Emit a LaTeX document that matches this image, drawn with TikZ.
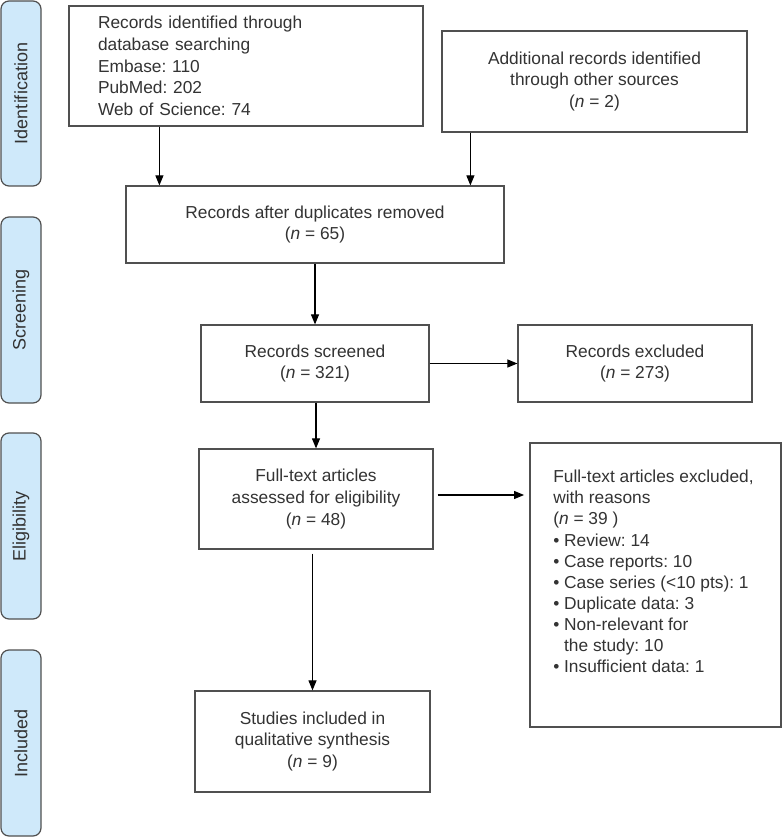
\documentclass[tikz,border=0pt]{standalone}
\usepackage{fontspec}
\setmainfont{Liberation Sans}
\usetikzlibrary{arrows.meta}
\definecolor{txtgray}{HTML}{333333}
\definecolor{boxline}{HTML}{505050}
\definecolor{sidefill}{HTML}{CFE9FA}
\frenchspacing
\begin{document}
\begin{tikzpicture}[x=0.75pt,y=-0.75pt,
  every node/.style={font=\fontsize{13}{16.3}\selectfont, text=txtgray},
  flowbox/.style={draw=boxline, line width=0.9pt, fill=white, align=center, inner sep=0pt},
  sidebox/.style={draw=boxline, line width=0.9pt, fill=sidefill, rounded corners=6pt,
    rotate=90, minimum height=30pt, inner sep=0pt, font=\fontsize{13.5}{16}\selectfont},
  arr/.style={draw=black, line width=0.8pt, -{Triangle[length=7.5pt,width=6pt]}}]
\useasboundingbox (0,0) rectangle (782,837);
% side labels
\node[sidebox, minimum width=138.75pt] (s1) at (21,93.5) {Identification};
\node[sidebox, minimum width=139.5pt] (s2) at (21,310) {Screening};
\node[sidebox, minimum width=139.5pt] (s3) at (21,526) {Eligibility};
\node[sidebox, minimum width=139.5pt] (s4) at (21,743) {Included};
% boxes
\node[flowbox, align=left, text width=222pt, inner xsep=21.75pt, minimum height=90pt] (b1) at (246,66)
  {Records identified through\\database searching\\Embase: 110\\PubMed: 202\\Web of Science: 74};
\node[flowbox, minimum width=228.75pt, minimum height=75.75pt] (b2) at (594.5,81.5)
  {Additional records identified\\through other sources\\(\textit{n} = 2)};
\node[flowbox, minimum width=283.5pt, minimum height=57.75pt] (b3) at (315,224.5)
  {Records after duplicates removed\\(\textit{n} = 65)};
\node[flowbox, minimum width=171pt, minimum height=57.75pt] (b4) at (315,363.5)
  {Records screened\\(\textit{n} = 321)};
\node[flowbox, minimum width=175.5pt, minimum height=57.75pt] (b5) at (635,363.5)
  {Records excluded\\(\textit{n} = 273)};
\node[flowbox, minimum width=175.5pt, minimum height=75pt] (b6) at (316,499)
  {Full-text articles\\assessed for eligibility\\(\textit{n} = 48)};
\node[flowbox, minimum width=188.25pt, minimum height=213pt] (b7) at (655.5,585) {};
\node[anchor=north west, align=left, inner sep=0pt, font=\fontsize{13}{15.8}\selectfont] (b7t) at (553,470)
  {Full-text articles excluded,\\with reasons\\(\textit{n} = 39 )\\
   • Review: 14\\• Case reports: 10\\• Case series (<10 pts): 1\\• Duplicate data: 3\\
   • Non-relevant for\\\hphantom{• }the study: 10\\• Insufficient data: 1};
\node[flowbox, minimum width=176.25pt, minimum height=75.75pt] (b8) at (312.5,741.5)
  {Studies included in\\qualitative synthesis\\(\textit{n} = 9)};
% connectors
\coordinate (a1) at ([xshift=68.25pt]b1.south west);
\coordinate (a2) at ([xshift=21.75pt]b2.south west);
\draw[arr] (a1) -- (a1 |- b3.north);
\draw[arr] (a2) -- (a2 |- b3.north);
\draw[arr] (b3.south) -- (b4.north);
\draw[arr] (b4.east) -- (b5.west);
\draw[arr] (b4.south -| b6.north) -- (b6.north);
\coordinate (a6) at ([xshift=3pt,yshift=3pt]b6.east);
\draw[arr, shorten >=4pt] (a6) -- (a6 -| b7.west);
\draw[arr, shorten <=3pt] (b6.south -| b8.north) -- (b8.north);
\end{tikzpicture}
\end{document}
